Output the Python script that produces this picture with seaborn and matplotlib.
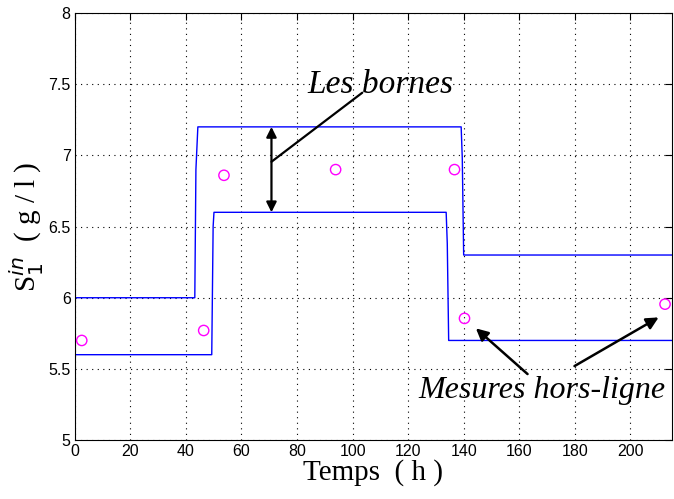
import matplotlib
matplotlib.use("Agg")
import matplotlib.pyplot as plt
import seaborn as sns
import numpy as np
import pandas as pd

# Upper bound (borne supérieure)
upper_t = [0, 43.2, 43.6, 44.3, 139.1, 139.5, 140.0, 215]
upper_v = [6.0, 6.0, 6.9, 7.2, 7.2, 6.98, 6.3, 6.3]
# Lower bound (borne inférieure)
lower_t = [0, 49.3, 49.8, 50.1, 133.7, 134.1, 134.6, 215]
lower_v = [5.6, 5.6, 6.5, 6.6, 6.6, 6.38, 5.7, 5.7]
# Offline measurements
meas_t = [2.5, 46.4, 53.7, 93.9, 136.7, 140.3, 212.5]
meas_v = [5.70, 5.77, 6.86, 6.90, 6.90, 5.855, 5.955]

xticks = [0, 20, 40, 60, 80, 100, 120, 140, 160, 180, 200]
yticks = [5, 5.5, 6, 6.5, 7, 7.5, 8]
ytick_labels = ["5", "5.5", "6", "6.5", "7", "7.5", "8"]

sns.set_theme(style="white")
plt.rcParams['font.family'] = ['Liberation Sans', 'DejaVu Sans']
plt.rcParams['text.color'] = 'black'
plt.rcParams['axes.labelcolor'] = 'black'
plt.rcParams['xtick.color'] = 'black'
plt.rcParams['ytick.color'] = 'black'

fig = plt.figure(figsize=(6.74, 4.99), dpi=100)
ax = fig.add_axes([0.111, 0.118, 0.886, 0.856])

df_u = pd.DataFrame({"t": upper_t, "v": upper_v})
df_l = pd.DataFrame({"t": lower_t, "v": lower_v})
df_m = pd.DataFrame({"t": meas_t, "v": meas_v})

sns.lineplot(data=df_u, x="t", y="v", ax=ax, color="#0000ff", lw=1.0, sort=False, estimator=None)
sns.lineplot(data=df_l, x="t", y="v", ax=ax, color="#0000ff", lw=1.0, sort=False, estimator=None)
sns.scatterplot(data=df_m, x="t", y="v", ax=ax, marker="o", s=55,
                facecolor="none", edgecolor="#ff00ff", linewidth=1.0, zorder=5)

ax.set_xlim(0, 215)
ax.set_ylim(5, 8)
ax.set_xticks(xticks)
ax.set_xticklabels([str(x) for x in xticks])
ax.set_yticks(yticks)
ax.set_yticklabels(ytick_labels)
ax.grid(True, linestyle=(0, (1, 4)), color="black", linewidth=0.8)
ax.tick_params(direction="in", length=5, width=0.8, colors="black",
               labelcolor="black", top=True, right=True, labelsize=11.5, pad=3)
for s in ax.spines.values():
    s.set_color("black")
    s.set_linewidth(0.8)

serif = ['Liberation Serif', 'DejaVu Serif']
ax.set_xlabel("Temps  ( h )", fontsize=21, family=serif, labelpad=0, color="black")
ax.set_ylabel(r"S$_1^{in}$  ( g / l )", fontsize=21, family=serif, labelpad=2, color="black")

# Annotations
ax.text(110, 7.495, "Les bornes", fontsize=24, family=serif, style="italic",
        ha="center", va="center", color="black")
ax.plot([70.8, 103.5], [6.955, 7.44], color="black", lw=1.6)
ax.annotate("", xy=(70.8, 7.2), xytext=(70.8, 6.6),
            arrowprops=dict(arrowstyle="<|-|>", color="black", lw=1.6,
                            mutation_scale=15, shrinkA=0, shrinkB=0))
ax.text(168.3, 5.35, "Mesures hors-ligne", fontsize=23, family=serif, style="italic",
        ha="center", va="center", color="black")
ax.annotate("", xy=(144.4, 5.785), xytext=(163, 5.464),
            arrowprops=dict(arrowstyle="-|>", color="black", lw=1.8,
                            mutation_scale=18, shrinkA=0, shrinkB=0))
ax.annotate("", xy=(210.2, 5.862), xytext=(179.9, 5.52),
            arrowprops=dict(arrowstyle="-|>", color="black", lw=1.8,
                            mutation_scale=18, shrinkA=0, shrinkB=0))

fig.savefig("out.png", dpi=100)
